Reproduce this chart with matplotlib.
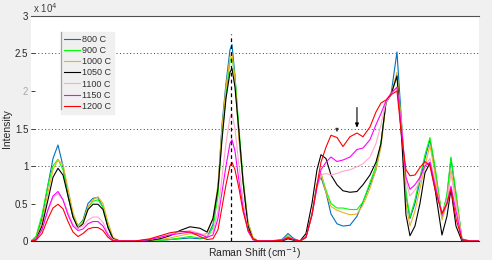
import matplotlib
matplotlib.use('Agg')

import matplotlib.pyplot as plt
from matplotlib.lines import Line2D
import numpy as np

plt.rcParams.update({
    'font.family': ['Liberation Sans', 'DejaVu Sans'],
    'font.size': 7,
})

# Raman shift sample points (cm-1)
shift = [100, 110, 122, 134, 144, 154, 164, 174, 184, 194,
         204, 214, 224, 234, 244, 254, 264, 278, 308, 338,
         358, 378, 398, 418, 438, 452, 464, 474, 482, 490,
         498, 502, 508, 516, 524, 534, 544, 554, 578, 602,
         614, 626, 638, 650, 662, 672, 680, 690, 700, 712,
         724, 738, 752, 764, 778, 790, 800, 810, 820, 832,
         842, 850, 858, 868, 878, 888, 898, 908, 922, 932,
         940, 950, 962, 978, 996]

# intensities in units of 1e4
i_800 = [0, 0.05, 0.3, 0.75, 1.1, 1.28, 1.0, 0.62, 0.32, 0.2,
         0.28, 0.5, 0.57, 0.58, 0.45, 0.18, 0.03, 0, 0, 0,
         0.01, 0.02, 0.03, 0.04, 0.03, 0.05, 0.22, 0.7, 1.55, 2.1,
         2.55, 2.62, 2.2, 1.4, 0.8, 0.2, 0.02, 0, 0, 0.02,
         0.1, 0.03, 0, 0.05, 0.35, 0.75, 0.85, 0.65, 0.36, 0.23,
         0.2, 0.21, 0.33, 0.52, 0.75, 0.95, 1.3, 1.85, 1.95, 2.52,
         1.5, 0.6, 0.3, 0.5, 0.8, 1.1, 1.35, 0.95, 0.32, 0.6,
         1.1, 0.6, 0.02, 0, 0]
i_900 = [0, 0.06, 0.35, 0.75, 1.0, 1.09, 0.95, 0.6, 0.33, 0.2,
         0.27, 0.45, 0.53, 0.55, 0.45, 0.2, 0.03, 0, 0, 0,
         0.01, 0.02, 0.04, 0.06, 0.04, 0.04, 0.18, 0.6, 1.4, 1.95,
         2.4, 2.45, 2.2, 1.5, 0.85, 0.25, 0.04, 0, 0, 0.01,
         0.07, 0.02, 0, 0.05, 0.35, 0.75, 0.9, 0.68, 0.5, 0.44,
         0.44, 0.42, 0.42, 0.52, 0.78, 1.0, 1.3, 1.85, 1.95, 2.2,
         1.5, 0.65, 0.32, 0.55, 0.85, 1.15, 1.38, 1.0, 0.33, 0.62,
         1.12, 0.65, 0.03, 0, 0]
i_1000 = [0, 0.03, 0.25, 0.65, 0.95, 1.08, 1.02, 0.7, 0.38, 0.2,
          0.26, 0.45, 0.55, 0.59, 0.5, 0.25, 0.05, 0, 0, 0.01,
          0.02, 0.04, 0.07, 0.1, 0.08, 0.1, 0.3, 0.75, 1.5, 2.05,
          2.45, 2.5, 2.15, 1.35, 0.8, 0.25, 0.05, 0, 0, 0.01,
          0.06, 0.02, 0, 0.05, 0.35, 0.75, 0.9, 0.65, 0.46, 0.41,
          0.38, 0.35, 0.36, 0.48, 0.7, 0.95, 1.25, 1.85, 1.95, 2.25,
          1.45, 0.5, 0.2, 0.4, 0.7, 1.0, 1.28, 0.9, 0.28, 0.5,
          0.95, 0.55, 0.02, 0, 0]
i_1050 = [0, 0.02, 0.2, 0.55, 0.85, 0.97, 0.88, 0.6, 0.32, 0.17,
          0.23, 0.42, 0.49, 0.49, 0.42, 0.18, 0.03, 0, 0, 0.01,
          0.03, 0.07, 0.14, 0.19, 0.17, 0.12, 0.3, 0.7, 1.35, 1.9,
          2.25, 2.3, 2.05, 1.45, 0.8, 0.2, 0.02, 0, 0, 0,
          0.03, 0.01, 0, 0.1, 0.5, 0.95, 1.15, 1.1, 0.88, 0.75,
          0.67, 0.65, 0.66, 0.75, 0.88, 1.05, 1.3, 1.85, 1.95, 2.2,
          1.3, 0.35, 0.07, 0.2, 0.5, 0.91, 1.04, 0.7, 0.08, 0.33,
          0.69, 0.2, 0, 0, 0]
i_1100 = [0, 0.02, 0.15, 0.4, 0.58, 0.63, 0.55, 0.38, 0.22, 0.17,
          0.2, 0.28, 0.32, 0.32, 0.25, 0.1, 0.02, 0, 0, 0.02,
          0.05, 0.09, 0.12, 0.14, 0.1, 0.07, 0.12, 0.4, 0.85, 1.3,
          1.65, 1.7, 1.5, 1.0, 0.55, 0.15, 0.02, 0, 0, 0.01,
          0.05, 0.02, 0, 0.05, 0.35, 0.7, 0.88, 0.9, 0.88, 0.9,
          0.93, 0.95, 0.99, 1.03, 1.12, 1.3, 1.55, 1.85, 1.95, 2.05,
          1.5, 0.8, 0.6, 0.68, 0.8, 1.0, 1.1, 0.8, 0.35, 0.55,
          0.9, 0.5, 0.03, 0, 0]
i_1150 = [0, 0.02, 0.15, 0.42, 0.6, 0.66, 0.55, 0.35, 0.2, 0.14,
          0.16, 0.23, 0.26, 0.26, 0.2, 0.08, 0.01, 0, 0, 0.02,
          0.05, 0.08, 0.1, 0.12, 0.09, 0.05, 0.08, 0.3, 0.65, 1.0,
          1.3, 1.35, 1.2, 0.8, 0.45, 0.13, 0.02, 0, 0, 0.01,
          0.05, 0.02, 0, 0.05, 0.35, 0.72, 0.95, 1.05, 1.12, 1.06,
          1.08, 1.12, 1.22, 1.24, 1.35, 1.55, 1.7, 1.87, 1.97, 2.05,
          1.45, 0.85, 0.69, 0.75, 0.85, 1.0, 1.05, 0.75, 0.35, 0.5,
          0.73, 0.4, 0.02, 0, 0]
i_1200 = [0, 0.01, 0.1, 0.3, 0.44, 0.49, 0.43, 0.26, 0.12, 0.06,
          0.1, 0.16, 0.18, 0.18, 0.14, 0.05, 0, 0, 0, 0.03,
          0.07, 0.11, 0.13, 0.12, 0.06, 0.02, 0.03, 0.15, 0.45, 0.75,
          1.0, 1.05, 0.95, 0.7, 0.4, 0.15, 0.03, 0, 0, 0.01,
          0.04, 0.02, 0, 0.05, 0.35, 0.75, 1.05, 1.25, 1.41, 1.38,
          1.26, 1.39, 1.44, 1.39, 1.52, 1.72, 1.84, 1.88, 1.95, 2.0,
          1.35, 0.95, 0.87, 0.88, 0.98, 1.06, 1.0, 0.69, 0.37, 0.5,
          0.69, 0.3, 0.02, 0, 0]

labels = ['800 C', '900 C', '1000 C', '1050 C', '1100 C', '1150 C', '1200 C']
series = [i_800, i_900, i_1000, i_1050, i_1100, i_1150, i_1200]
colors = ['#0072BD', '#00FF00', '#EDB120', '#000000', '#FFA8C8', '#FF00FF', '#FF0000']

ytick_vals = [0, 0.5, 1, 1.5, 2, 2.5, 3]
ytick_text = ['0', '0.5', '1', '1.5', '2', '2.5', '3']
grid_vals = [1, 1.5, 2.5]
marker_shift = 501        # dashed reference line
arrow_shift = 752         # long arrow
small_arrow_shift = 712   # small arrow head

fig = plt.figure(figsize=(4.92, 2.6), dpi=100, facecolor='#f0f0f0')
ax = fig.add_axes([0.063, 0.073, 0.9105, 0.8655])
ax.set_facecolor('white')

for g in grid_vals:
    ax.axhline(g * 1e4, color='#404040', lw=0.7, ls=(0, (1, 2.5)), zorder=1)

x = np.array(shift)
for vals, lab, c in zip(series, labels, colors):
    ax.plot(x, np.array(vals) * 1e4, color=c, lw=0.8, label=lab, zorder=3)

ax.vlines(marker_shift, 0, 2.76e4, colors='k', linestyles=(0, (3, 2.5)), lw=0.9, zorder=4)

ax.annotate('', xy=(arrow_shift, 1.51e4), xytext=(arrow_shift, 1.78e4),
            arrowprops=dict(arrowstyle='-|>,head_width=0.15,head_length=0.35',
                            color='k', lw=0.8, shrinkA=0, shrinkB=0))
ax.annotate('', xy=(small_arrow_shift, 1.45e4), xytext=(small_arrow_shift, 1.5e4),
            arrowprops=dict(arrowstyle='-|>,head_width=0.12,head_length=0.3',
                            color='#303030', lw=0.6, shrinkA=0, shrinkB=0))

ax.set_xlim(100, 996)
ax.set_ylim(0, 3e4)
ax.set_xticks([])
ax.set_yticks([v * 1e4 for v in ytick_vals])
ax.set_yticklabels(ytick_text)
for t, lab in zip(ax.get_yticklabels(), ytick_text):
    t.set_color('#a8a8a8' if lab == '2' else '#262626')
ax.tick_params(axis='y', direction='in', length=3, width=0.7, color='#404040',
               pad=2, labelsize=7)

ax.spines['left'].set_visible(False)
ax.spines['right'].set_visible(False)
ax.spines['top'].set_color('#505050')
ax.spines['top'].set_linewidth(0.8)
ax.spines['bottom'].set_color('#262626')
ax.spines['bottom'].set_linewidth(0.8)

ax.text(0.004, 1.005, 'x 10$^{4}$', transform=ax.transAxes, fontsize=7,
        color='#404040', ha='left', va='bottom')

ax.set_ylabel('Intensity', fontsize=7.5, color='#262626', labelpad=2)
ax.set_xlabel('Raman Shift (cm$^{-1}$)', fontsize=7.5, color='#262626', labelpad=3)

leg = ax.legend(loc='upper left', bbox_to_anchor=(0.067, 0.93), fontsize=6.5,
                frameon=True, fancybox=False, facecolor='#f0f0f0',
                edgecolor='#f0f0f0', framealpha=1, handlelength=1.8,
                handletextpad=0.2, labelspacing=0.24, borderpad=0.35,
                borderaxespad=0)
for t in leg.get_texts():
    t.set_color('#303030')
ax.add_line(Line2D([0.067, 0.067], [0.585, 0.93], transform=ax.transAxes,
                   color='#a0a0a0', lw=0.9, zorder=6))

fig.savefig('out.png', dpi=100, facecolor=fig.get_facecolor())
